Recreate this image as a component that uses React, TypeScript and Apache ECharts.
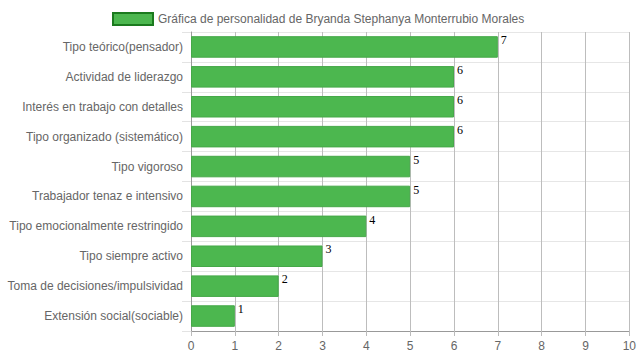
import React, { useEffect, useRef } from "react";
import * as echarts from "echarts";

const categories = [
  "Tipo teórico(pensador)",
  "Actividad de liderazgo",
  "Interés en trabajo con detalles",
  "Tipo organizado (sistemático)",
  "Tipo vigoroso",
  "Trabajador tenaz e intensivo",
  "Tipo emocionalmente restringido",
  "Tipo siempre activo",
  "Toma de decisiones/impulsividad",
  "Extensión social(sociable)",
];
const values = [7, 6, 6, 6, 5, 5, 4, 3, 2, 1];
const seriesName = "Gráfica de personalidad de Bryanda Stephanya Monterrubio Morales";

export default function App() {
  const ref = useRef<HTMLDivElement>(null);
  useEffect(() => {
    const chart = echarts.init(ref.current!, null, { renderer: "svg" });
    chart.setOption({
      animation: false,
      textStyle: { fontFamily: "Liberation Sans, Arial, sans-serif" },
      legend: {
        top: 7,
        left: 107,
        icon: "rect",
        itemWidth: 40,
        itemHeight: 12,
        itemGap: 8,
        textStyle: { color: "#666", fontSize: 12, fontFamily: "Liberation Sans, Arial, sans-serif" },
        itemStyle: { color: "#4CB74F", borderColor: "#1B7A1E", borderWidth: 2 },
        data: [seriesName],
      },
      grid: { left: 191, right: 9, top: 32, bottom: 29, containLabel: false },
      xAxis: {
        type: "value",
        min: 0,
        max: 10,
        interval: 1,
        axisLine: { show: true, lineStyle: { color: "#999" } },
        axisTick: { show: true, length: 5, lineStyle: { color: "#bbb" } },
        axisLabel: { color: "#666", fontSize: 12, margin: 9 },
        splitLine: { show: true, lineStyle: { color: "#bdbdbd" } },
      },
      yAxis: {
        type: "category",
        inverse: true,
        data: categories,
        axisLine: { show: true, lineStyle: { color: "#999" } },
        axisTick: { show: true, length: 9, lineStyle: { color: "#e3e3e3" } },
        axisLabel: { color: "#666", fontSize: 12, margin: 8 },
        splitLine: { show: true, lineStyle: { color: "#e6e6e6" } },
      },
      series: [
        {
          name: seriesName,
          type: "bar",
          data: values,
          barWidth: "72%",
          itemStyle: { color: "#4CB74F", borderColor: "#45a848", borderWidth: 1 },
          label: {
            show: true,
            position: ["100%", 0],
            offset: [3, -2],
            align: "left",
            verticalAlign: "top",
            color: "#000",
            textBorderWidth: 0,
            textBorderColor: "transparent",
            fontSize: 12,
            fontFamily: "Liberation Serif, Times New Roman, serif",
          },
        },
      ],
    });
    return () => chart.dispose();
  }, []);
  return <div ref={ref} style={{ width: 639, height: 360, position: "absolute", left: 0, top: 0 }} />;
}
